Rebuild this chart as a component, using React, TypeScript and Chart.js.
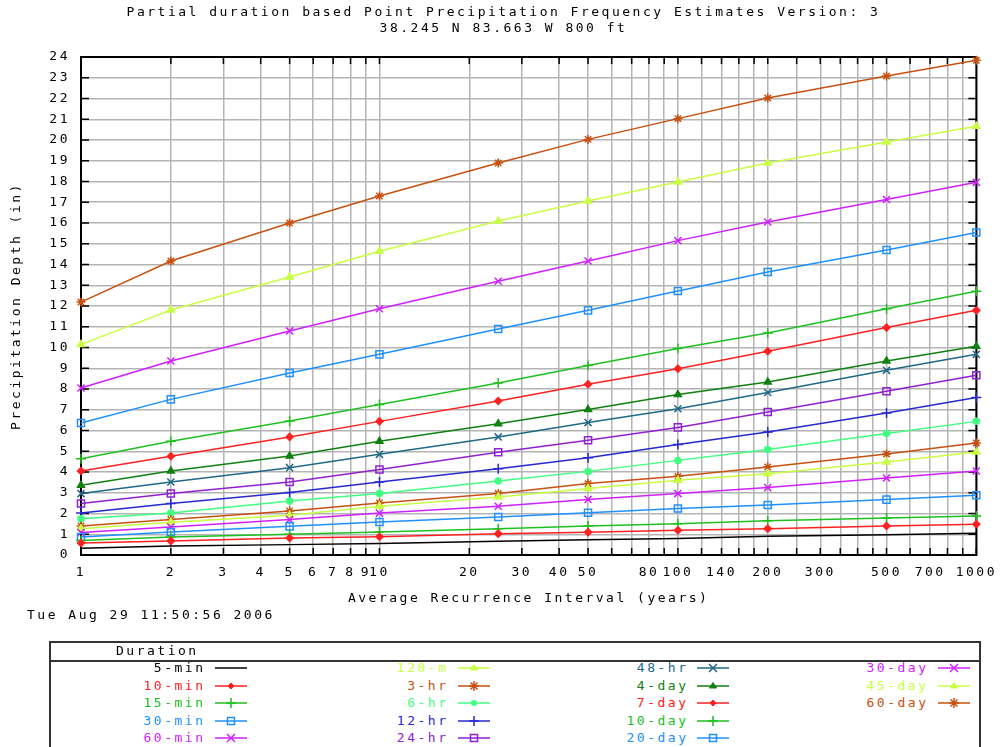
import React, { useEffect, useRef } from 'react';
import { Chart, registerables } from 'chart.js';

Chart.register(...registerables);

const FONT = "'DejaVu Sans Mono', monospace";
const LS = '2.5px';

const titleLines = [
  'Partial duration based Point Precipitation Frequency Estimates Version: 3',
  '38.245 N 83.663 W 800 ft',
];
const xTitle = 'Average Recurrence Interval (years)';
const yTitle = 'Precipitation Depth (in)';
const dateText = 'Tue Aug 29 11:50:56 2006';
const legendTitle = 'Duration';

// recurrence intervals (years)
const years = [1, 2, 5, 10, 25, 50, 100, 200, 500, 1000];
// x grid positions and labelled ticks
const xGrid = [1, 2, 3, 4, 5, 6, 7, 8, 9, 10, 20, 30, 40, 50, 60, 70, 80, 90, 100, 120, 140, 160, 180, 200, 250, 300, 350, 400, 450, 500, 600, 700, 800, 900, 1000];
const xLabels = [1, 2, 3, 4, 5, 6, 7, 8, 9, 10, 20, 30, 40, 50, 80, 100, 140, 200, 300, 500, 700, 1000];
const yTicks = [0, 1, 2, 3, 4, 5, 6, 7, 8, 9, 10, 11, 12, 13, 14, 15, 16, 17, 18, 19, 20, 21, 22, 23, 24];

// precipitation depths (in)
const min5 = [0.33, 0.43, 0.50, 0.56, 0.66, 0.74, 0.79, 0.90, 0.98, 1.05];
const min10 = [0.58, 0.68, 0.82, 0.88, 1.03, 1.10, 1.19, 1.27, 1.40, 1.48];
const min15 = [0.70, 0.87, 1.00, 1.11, 1.27, 1.40, 1.51, 1.65, 1.78, 1.88];
const min30 = [0.87, 1.11, 1.38, 1.59, 1.83, 2.04, 2.24, 2.41, 2.67, 2.88];
const min60 = [1.08, 1.35, 1.71, 2.02, 2.35, 2.68, 2.96, 3.25, 3.71, 4.05];
const min120 = [1.27, 1.58, 1.91, 2.35, 2.80, 3.20, 3.60, 3.92, 4.48, 4.96];
const hr3 = [1.40, 1.71, 2.12, 2.51, 2.96, 3.44, 3.79, 4.24, 4.87, 5.40];
const hr6 = [1.75, 2.02, 2.60, 2.96, 3.57, 4.03, 4.56, 5.08, 5.85, 6.44];
const hr12 = [2.02, 2.48, 3.01, 3.52, 4.16, 4.69, 5.32, 5.93, 6.84, 7.59];
const hr24 = [2.48, 2.96, 3.52, 4.12, 4.95, 5.53, 6.15, 6.89, 7.89, 8.66];
const hr48 = [2.96, 3.52, 4.21, 4.85, 5.69, 6.38, 7.05, 7.83, 8.90, 9.67];
const day4 = [3.36, 4.05, 4.77, 5.48, 6.33, 7.01, 7.73, 8.34, 9.35, 10.06];
const day7 = [4.05, 4.76, 5.69, 6.44, 7.42, 8.23, 8.98, 9.82, 10.96, 11.79];
const day10 = [4.64, 5.48, 6.46, 7.25, 8.29, 9.13, 9.95, 10.70, 11.87, 12.71];
const day20 = [6.36, 7.50, 8.77, 9.67, 10.89, 11.79, 12.72, 13.64, 14.70, 15.54];
const day30 = [8.05, 9.35, 10.80, 11.87, 13.19, 14.17, 15.15, 16.05, 17.13, 17.96];
const day45 = [10.15, 11.81, 13.40, 14.64, 16.10, 17.06, 17.98, 18.89, 19.90, 20.66];
const day60 = [12.19, 14.17, 16.00, 17.30, 18.89, 20.03, 21.03, 22.02, 23.08, 23.84];

const seriesNames = ['5-min', '10-min', '15-min', '30-min', '60-min', '120-m', '3-hr', '6-hr', '12-hr', '24-hr', '48-hr', '4-day', '7-day', '10-day', '20-day', '30-day', '45-day', '60-day'];
const seriesValues = [min5, min10, min15, min30, min60, min120, hr3, hr6, hr12, hr24, hr48, day4, day7, day10, day20, day30, day45, day60];
const seriesColors = ['#000000', '#ff2020', '#20c020', '#2090ff', '#d020ff', '#c8ff40', '#c85010', '#40ff80', '#2828d0', '#9020d0', '#206888', '#108010', '#ff2020', '#20c020', '#2090ff', '#d020ff', '#c8ff40', '#c85010'];
const seriesMarkers = ['none', 'rectRot', 'cross', 'rect', 'crossRot', 'triangle', 'star', 'circle', 'cross', 'rect', 'crossRot', 'triangle', 'rectRot', 'cross', 'rect', 'crossRot', 'triangle', 'star'];

const markerRadius: Record<string, number> = {
  none: 0, rectRot: 3.5, cross: 5, rect: 5, crossRot: 5, triangle: 4, star: 4.5, circle: 3,
};

const framePlugin = {
  id: 'framePlugin',
  beforeUpdate(chart: any) { chart.ctx.letterSpacing = LS; },
  beforeLayout(chart: any) { chart.ctx.letterSpacing = LS; },
  beforeDraw(chart: any) { chart.ctx.letterSpacing = LS; },
  beforeDatasetsDraw(chart: any) {
    const { ctx, chartArea: a, scales } = chart;
    ctx.save();
    ctx.strokeStyle = '#000';
    ctx.lineWidth = 1.5;
    ctx.beginPath();
    xGrid.forEach((v) => {
      const px = scales.x.getPixelForValue(v);
      ctx.moveTo(px, a.bottom); ctx.lineTo(px, a.bottom - 7);
      ctx.moveTo(px, a.top); ctx.lineTo(px, a.top + 7);
    });
    yTicks.forEach((v) => {
      const py = scales.y.getPixelForValue(v);
      ctx.moveTo(a.left, py); ctx.lineTo(a.left + 8, py);
      ctx.moveTo(a.right, py); ctx.lineTo(a.right - 8, py);
    });
    ctx.stroke();
    ctx.lineWidth = 2;
    ctx.strokeRect(a.left, a.top, a.right - a.left, a.bottom - a.top);
    ctx.restore();
  },
};

function MarkerSvg({ color, marker }: { color: string; marker: string }) {
  const cx = 16, cy = 6;
  let shape: any = null;
  if (marker === 'rectRot') shape = <polygon points={`${cx},${cy - 3} ${cx + 3},${cy} ${cx},${cy + 3} ${cx - 3},${cy}`} fill={color} stroke={color} strokeWidth={1} />;
  else if (marker === 'cross') shape = <path d={`M${cx} ${cy - 5}V${cy + 5}M${cx - 5} ${cy}H${cx + 5}`} stroke={color} strokeWidth={1.5} />;
  else if (marker === 'rect') shape = <rect x={cx - 3.5} y={cy - 3.5} width={7} height={7} fill="none" stroke={color} strokeWidth={1.5} />;
  else if (marker === 'crossRot') shape = <path d={`M${cx - 4} ${cy - 4}L${cx + 4} ${cy + 4}M${cx - 4} ${cy + 4}L${cx + 4} ${cy - 4}`} stroke={color} strokeWidth={1.5} />;
  else if (marker === 'triangle') shape = <polygon points={`${cx},${cy - 3.5} ${cx + 3.5},${cy + 2} ${cx - 3.5},${cy + 2}`} fill={color} stroke={color} strokeWidth={1} />;
  else if (marker === 'star') shape = <path d={`M${cx} ${cy - 5}V${cy + 5}M${cx - 5} ${cy}H${cx + 5}M${cx - 3.5} ${cy - 3.5}L${cx + 3.5} ${cy + 3.5}M${cx - 3.5} ${cy + 3.5}L${cx + 3.5} ${cy - 3.5}`} stroke={color} strokeWidth={1.5} />;
  else if (marker === 'circle') shape = <circle cx={cx} cy={cy} r={3} fill={color} />;
  return (
    <svg width={32} height={12} style={{ display: 'block', overflow: 'visible' }}>
      <line x1={0} y1={cy} x2={32} y2={cy} stroke={color} strokeWidth={1.5} />
      {shape}
    </svg>
  );
}

export default function App() {
  const canvasRef = useRef<HTMLCanvasElement | null>(null);

  useEffect(() => {
    if (!canvasRef.current) return;
    const datasets = seriesNames.map((name, i) => ({
      label: name,
      data: years.map((yr, j) => ({ x: yr, y: seriesValues[i][j] })),
      borderColor: seriesColors[i],
      backgroundColor: seriesColors[i],
      borderWidth: 1.5,
      pointStyle: seriesMarkers[i] === 'none' ? false : seriesMarkers[i],
      pointRadius: markerRadius[seriesMarkers[i]],
      pointBorderColor: seriesColors[i],
      pointBackgroundColor: seriesMarkers[i] === 'rect' ? 'rgba(0,0,0,0)' : seriesColors[i],
      pointBorderWidth: 1.5,
      fill: false,
      tension: 0,
      clip: false as any,
    }));

    const tickFont = { family: FONT, size: 13, lineHeight: 1.2 };

    const chart = new Chart(canvasRef.current, {
      type: 'line',
      data: { datasets: datasets as any },
      plugins: [framePlugin as any],
      options: {
        animation: false,
        responsive: true,
        maintainAspectRatio: false,
        devicePixelRatio: 1,
        layout: { padding: 0 },
        plugins: {
          legend: { display: false },
          tooltip: { enabled: false },
          title: {
            display: true,
            text: titleLines,
            color: '#000',
            font: { family: FONT, size: 13, weight: 'normal', lineHeight: 16 / 13 },
            padding: { top: 5, bottom: 20 },
          },
        },
        scales: {
          x: {
            type: 'logarithmic',
            min: 1,
            max: 1000,
            afterBuildTicks: (s: any) => { s.ticks = xGrid.map((v) => ({ value: v })); },
            afterFit: (s: any) => { s.height = 57; },
            grid: { color: '#b4b4b4', lineWidth: 1.5, drawTicks: false },
            border: { display: false },
            ticks: {
              autoSkip: false,
              maxRotation: 0,
              minRotation: 0,
              padding: 10,
              color: '#000',
              font: tickFont,
              callback: (v: any) => (xLabels.includes(Number(v)) ? String(v) : ''),
            },
            title: {
              display: true,
              text: xTitle,
              color: '#000',
              font: tickFont,
              padding: { top: 0, bottom: 6 },
            },
          },
          y: {
            type: 'linear',
            min: 0,
            max: 24,
            afterBuildTicks: (s: any) => { s.ticks = yTicks.map((v) => ({ value: v })); },
            afterFit: (s: any) => { s.width = 81; },
            grid: { color: '#b4b4b4', lineWidth: 1.5, drawTicks: false },
            border: { display: false },
            ticks: {
              padding: 11,
              color: '#000',
              font: tickFont,
              callback: (v: any) => String(v),
            },
            title: {
              display: true,
              text: yTitle,
              color: '#000',
              font: tickFont,
              padding: { top: 9, bottom: 0 },
            },
          },
          y2: {
            type: 'linear',
            position: 'right',
            display: true,
            grid: { display: false, drawTicks: false },
            border: { display: false },
            ticks: { display: false },
            afterFit: (s: any) => { s.width = 25; },
          },
        },
      } as any,
    });
    return () => chart.destroy();
  }, []);

  const textStyle: React.CSSProperties = {
    fontFamily: FONT,
    fontSize: 13,
    letterSpacing: LS,
    lineHeight: '16px',
    whiteSpace: 'nowrap',
  };

  const colTextRight = [205.5, 448.5, 688.5, 928.5];
  const colSampleLeft = [215, 458, 697, 938];
  const rowCenters = [668, 685.5, 703, 720.5, 738];

  return (
    <div style={{ position: 'absolute', left: 0, top: 0, width: 1007, height: 747, overflow: 'hidden', background: '#fff' }}>
      <div style={{ position: 'absolute', left: 0, top: 0, width: 1007, height: 612 }}>
        <canvas ref={canvasRef} />
      </div>
      <div style={{ ...textStyle, position: 'absolute', left: 27, top: 607, color: '#000' }}>{dateText}</div>
      <div style={{ position: 'absolute', left: 49, top: 641, width: 928, height: 130, border: '2px solid #333' }} />
      <div style={{ position: 'absolute', left: 49, top: 659.5, width: 932, height: 0, borderTop: '2px solid #333' }} />
      <div style={{ ...textStyle, position: 'absolute', left: 116, top: 643, color: '#000' }}>{legendTitle}</div>
      {seriesNames.map((name, i) => {
        const col = Math.floor(i / 5);
        const row = i % 5;
        return (
          <React.Fragment key={name}>
            <div style={{ ...textStyle, position: 'absolute', left: colTextRight[col] - 160, width: 160, top: rowCenters[row] - 8, textAlign: 'right', color: seriesColors[i] }}>{name}</div>
            <div style={{ position: 'absolute', left: colSampleLeft[col], top: rowCenters[row] - 6 }}>
              <MarkerSvg color={seriesColors[i]} marker={seriesMarkers[i]} />
            </div>
          </React.Fragment>
        );
      })}
    </div>
  );
}
